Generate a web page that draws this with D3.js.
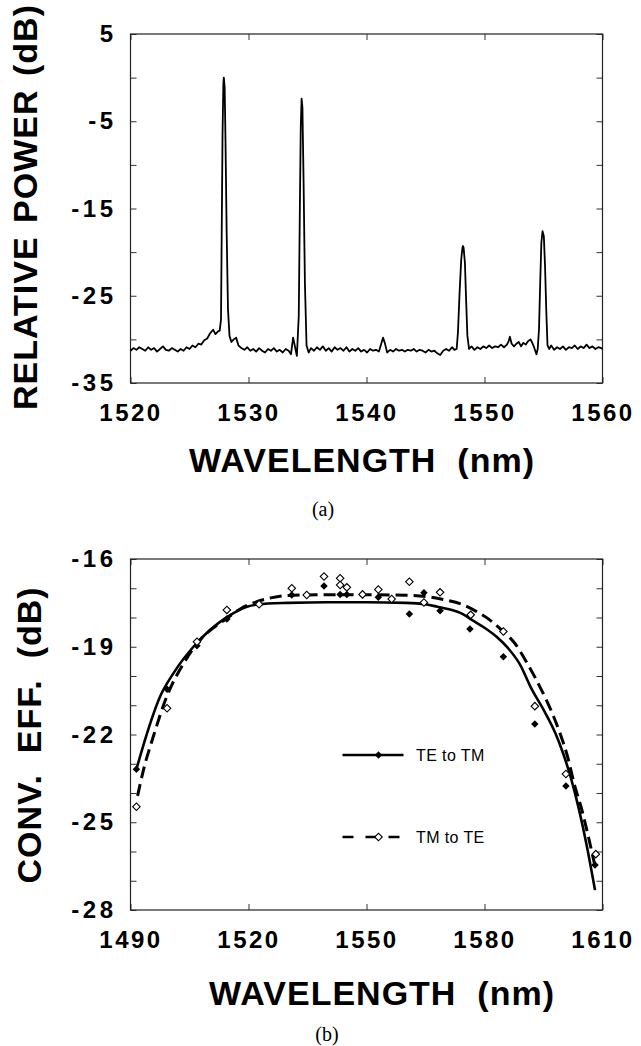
<!DOCTYPE html>
<html>
<head>
<meta charset="utf-8">
<script src="https://cdn.jsdelivr.net/npm/d3@7"></script>
<style>
  body { margin: 0; background: #fff; }
  svg { display: block; font-family: "Liberation Sans", Arial, Helvetica, sans-serif; }
  .tick text { font-size: 24px; font-weight: bold; fill: #000; }
  .xaxis .tick text { letter-spacing: 2.5px; }
  .yaxis .tick text { letter-spacing: 3.5px; }
  .tick line { stroke: #333; stroke-width: 1; }
  .title { font-size: 34px; font-weight: bold; letter-spacing: 1px; fill: #000; white-space: pre; }
  .caption { font-family: "Liberation Serif", "Times New Roman", serif; font-size: 20px; fill: #000; }
  .legend { font-size: 16px; letter-spacing: 0.4px; fill: #000; }
</style>
</head>
<body>
<svg width="641" height="1046"></svg>
<script>
// ---------- (a) optical spectrum: [wavelength (nm), relative power (dB)] ----------
var spectrum = [
  [1520.00,-31.3],[1520.25,-31.0],[1520.50,-31.2],[1520.75,-30.9],[1521.00,-31.1],
  [1521.25,-31.3],[1521.50,-30.9],[1521.75,-31.2],[1522.00,-31.0],[1522.25,-31.4],
  [1522.50,-31.1],[1522.75,-30.8],[1523.00,-31.2],[1523.25,-31.3],[1523.50,-31.0],
  [1523.75,-31.2],[1524.00,-31.4],[1524.25,-31.1],[1524.50,-31.3],[1524.75,-30.9],
  [1525.00,-31.1],[1525.25,-30.7],[1525.50,-30.9],[1525.75,-30.5],[1526.00,-30.6],
  [1526.25,-30.1],[1526.50,-29.9],[1526.75,-29.3],[1527.00,-28.9],[1527.20,-29.4],
  [1527.40,-29.1],[1527.56,-29.0],
  // peak 1
  [1527.67,-27.7],[1527.73,-17.8],[1527.80,-6.4],[1527.87,-0.7],[1527.91,0.0],
  [1527.98,-1.1],[1528.05,-7.2],[1528.15,-17.8],[1528.26,-26.5],[1528.39,-29.6],
  [1528.55,-30.3],[1528.75,-30.0],[1528.95,-29.8],[1529.15,-30.7],[1529.40,-31.0],
  [1529.65,-31.2],[1529.90,-30.9],[1530.15,-31.3],[1530.40,-31.1],[1530.65,-31.4],
  [1530.90,-31.0],[1531.15,-31.3],[1531.40,-31.5],[1531.65,-31.1],[1531.90,-31.3],
  [1532.15,-31.0],[1532.40,-31.4],[1532.65,-31.2],[1532.90,-31.5],[1533.15,-31.1],
  [1533.40,-31.3],[1533.60,-31.7],[1533.78,-29.8],[1533.95,-30.9],[1534.10,-31.9],
  // peak 2
  [1534.26,-27.3],[1534.36,-14.0],[1534.43,-5.6],[1534.50,-2.4],[1534.57,-3.4],
  [1534.67,-12.1],[1534.78,-23.5],[1534.92,-30.7],
  [1535.10,-31.5],[1535.30,-31.0],[1535.55,-31.3],[1535.80,-30.9],[1536.05,-31.2],
  [1536.30,-30.8],[1536.55,-31.3],[1536.80,-31.0],[1537.05,-31.4],[1537.30,-30.9],
  [1537.55,-31.2],[1537.80,-31.0],[1538.05,-31.3],[1538.30,-30.9],[1538.55,-31.4],
  [1538.80,-31.1],[1539.05,-31.3],[1539.30,-31.0],[1539.55,-31.4],[1539.80,-31.2],
  [1540.05,-31.5],[1540.30,-31.1],[1540.55,-31.3],[1540.80,-31.2],[1541.05,-31.4],
  [1541.25,-30.5],[1541.40,-29.8],[1541.55,-30.4],[1541.75,-31.5],[1542.00,-31.2],
  [1542.25,-31.4],[1542.50,-31.1],[1542.75,-31.3],[1543.00,-31.2],[1543.25,-31.4],
  [1543.50,-31.2],[1543.75,-31.3],[1544.00,-31.1],[1544.25,-31.4],[1544.50,-31.2],
  [1544.75,-31.3],[1545.00,-31.5],[1545.25,-31.2],[1545.50,-31.4],[1545.75,-31.3],
  [1546.00,-31.6],[1546.25,-31.8],[1546.50,-31.3],[1546.75,-31.1],[1547.00,-31.3],
  [1547.25,-30.9],[1547.45,-31.2],[1547.64,-31.1],
  // peak 3
  [1547.75,-29.2],[1547.89,-24.6],[1548.03,-20.8],[1548.13,-19.5],[1548.18,-19.3],
  [1548.23,-19.5],[1548.34,-21.2],[1548.44,-25.4],[1548.55,-29.6],[1548.69,-31.1],
  [1548.90,-30.8],[1549.15,-31.2],[1549.40,-30.9],[1549.65,-31.1],[1549.90,-30.8],
  [1550.15,-31.0],[1550.40,-30.7],[1550.65,-31.0],[1550.90,-30.8],[1551.15,-30.9],
  [1551.40,-30.6],[1551.65,-30.9],[1551.90,-30.6],[1552.05,-30.2],[1552.15,-29.7],
  [1552.30,-30.5],[1552.50,-30.8],[1552.70,-30.5],[1552.90,-30.3],[1553.10,-30.8],
  [1553.30,-30.4],[1553.50,-30.6],[1553.70,-30.2],[1553.90,-30.0],[1554.05,-30.4],
  [1554.20,-30.9],[1554.40,-31.7],[1554.51,-31.1],
  // peak 4
  [1554.62,-28.8],[1554.72,-23.5],[1554.82,-18.9],[1554.92,-17.6],[1555.03,-18.2],
  [1555.13,-21.6],[1555.24,-26.9],[1555.34,-30.7],[1555.48,-31.1],
  [1555.65,-30.7],[1555.90,-31.2],[1556.15,-30.9],[1556.40,-31.1],[1556.65,-30.8],
  [1556.90,-31.2],[1557.15,-30.9],[1557.40,-31.0],[1557.65,-30.7],[1557.90,-31.1],
  [1558.15,-30.8],[1558.40,-31.0],[1558.65,-30.6],[1558.90,-31.0],[1559.15,-30.8],
  [1559.40,-31.1],[1559.65,-30.9],[1559.90,-31.0],[1560.00,-31.1]
];
var specXTicks = [1520, 1530, 1540, 1550, 1560];
var specYTicks = [5, 0, -5, -10, -15, -20, -25, -30, -35];
var specYLabels = [5, -5, -15, -25, -35];

// ---------- (b) conversion efficiency ----------
// measured points
var teWave = [1491.5, 1499.3, 1506.9, 1514.5, 1531.0, 1539.2, 1543.3, 1545.0, 1553.0,
              1560.9, 1564.6, 1568.7, 1576.3, 1584.8, 1592.8, 1600.7, 1608.1];
var teEff  = [-23.19, -20.45, -18.97, -18.05, -17.23, -16.92, -17.21, -17.21, -17.31,
              -17.88, -17.15, -17.77, -18.39, -19.34, -21.64, -23.76, -26.46];
var tmWave = [1491.5, 1499.3, 1506.9, 1514.5, 1522.7, 1531.0, 1534.8, 1539.2, 1543.3, 1543.3,
              1545.0, 1549.0, 1553.0, 1556.4, 1560.9, 1564.6, 1568.7, 1576.5, 1584.8, 1592.8,
              1600.7, 1608.3];
var tmEff  = [-24.47, -21.10, -18.83, -17.74, -17.55, -17.00, -17.23, -16.60, -16.66, -16.89,
              -16.97, -17.21, -17.04, -17.37, -16.78, -17.49, -17.14, -17.91, -18.48, -21.03,
              -23.35, -26.09];
// fitted curves
var teFitWave = [1491.5, 1494.2, 1497.5, 1500.9, 1506.0, 1510.2, 1514.5, 1519.6, 1525, 1530,
                 1540, 1550, 1560, 1565, 1568, 1571, 1574, 1577, 1580, 1583, 1586, 1589, 1592,
                 1595, 1598, 1600, 1602, 1604, 1606, 1608.1];
var teFitEff  = [-23.19, -21.96, -20.71, -19.91, -19.00, -18.43, -17.99, -17.63, -17.52, -17.50,
                 -17.48, -17.48, -17.50, -17.55, -17.63, -17.72, -17.85, -18.10, -18.35, -18.65,
                 -19.05, -19.60, -20.45, -21.15, -21.95, -22.65, -23.50, -24.55, -25.80, -27.32];
var tmFitWave = [1491.8, 1493.3, 1495.8, 1499.2, 1503.5, 1507.7, 1514.5, 1518, 1522.1, 1526,
                 1530, 1540, 1550, 1560, 1566, 1570, 1574.6, 1578, 1581.4, 1584.5, 1587.7, 1591,
                 1594.9, 1597, 1599.2, 1601, 1603.0, 1604.8, 1606.4, 1608.1];
var tmFitEff  = [-24.10, -23.21, -22.07, -20.71, -19.57, -18.77, -18.03, -17.70, -17.46, -17.32,
                 -17.25, -17.22, -17.22, -17.24, -17.30, -17.40, -17.57, -17.80, -18.09, -18.45,
                 -18.88, -19.60, -20.59, -21.20, -21.96, -22.70, -23.78, -24.60, -25.49, -26.50];
var convXTicks = [1490, 1520, 1550, 1580, 1610];
var convYTicks = [-16, -17, -18, -19, -20, -21, -22, -23, -24, -25, -26, -27, -28];
var convYLabels = [-16, -19, -22, -25, -28];

var svg = d3.select("svg");

var left = 130.5, width = 472;

// draw a framed panel with inward ticks on all four sides
function panel(top, height, xDomain, yDomain, xTicks, yTicks, yLabels) {
  var g = svg.append("g").attr("transform", "translate(" + left + "," + top + ")");
  var x = d3.scaleLinear().domain(xDomain).range([0, width]);
  var y = d3.scaleLinear().domain(yDomain).range([height, 0]);

  g.append("g").attr("class", "xaxis")
      .attr("transform", "translate(0," + height + ")")
      .call(d3.axisBottom(x).tickValues(xTicks).tickSize(-6).tickPadding(21)
        .tickFormat(function(d) { return String(d); }));
  g.append("g").attr("class", "xaxis")
      .call(d3.axisTop(x).tickValues(xTicks).tickSize(-6).tickFormat(""));
  g.append("g").attr("class", "yaxis")
      .call(d3.axisLeft(y).tickValues(yTicks).tickSize(-6).tickPadding(14)
        .tickFormat(function(d) { return yLabels.indexOf(d) >= 0 ? String(d) : ""; }));
  g.append("g").attr("class", "yaxis")
      .attr("transform", "translate(" + width + ",0)")
      .call(d3.axisRight(y).tickValues(yTicks).tickSize(-6).tickFormat(""));
  g.selectAll(".domain").remove();

  g.append("rect")
      .attr("width", width).attr("height", height)
      .attr("fill", "none").attr("stroke", "#222").attr("stroke-width", 1.2);

  return { g: g, x: x, y: y };
}

// ---------- panel (a) ----------
var a = panel(34, 349, [1520, 1560], [-35, 5], specXTicks, specYTicks, specYLabels);

a.g.append("path")
    .datum(spectrum)
    .attr("fill", "none")
    .attr("stroke", "#000")
    .attr("stroke-width", 1.8)
    .attr("stroke-linejoin", "round")
    .attr("d", d3.line()
      .x(function(d) { return a.x(d[0]); })
      .y(function(d) { return a.y(d[1]); }));

svg.append("text").attr("class", "title")
    .attr("transform", "translate(37,207) rotate(-90)")
    .attr("text-anchor", "middle")
    .attr("word-spacing", "3px")
    .text("RELATIVE POWER (dB)");
svg.append("text").attr("class", "title")
    .attr("x", 362).attr("y", 472)
    .attr("text-anchor", "middle")
    .text("WAVELENGTH  (nm)");
svg.append("text").attr("class", "caption")
    .attr("x", 323).attr("y", 516)
    .attr("text-anchor", "middle")
    .text("(a)");

// ---------- panel (b) ----------
var b = panel(559, 351, [1490, 1610], [-28, -16], convXTicks, convYTicks, convYLabels);

var fitLine = d3.line()
    .x(function(d) { return b.x(d[0]); })
    .y(function(d) { return b.y(d[1]); })
    .curve(d3.curveMonotoneX);

b.g.append("path")
    .datum(d3.zip(teFitWave, teFitEff))
    .attr("fill", "none").attr("stroke", "#000").attr("stroke-width", 2.6)
    .attr("d", fitLine);
b.g.append("path")
    .datum(d3.zip(tmFitWave, tmFitEff))
    .attr("fill", "none").attr("stroke", "#000").attr("stroke-width", 3)
    .attr("stroke-dasharray", "12,6")
    .attr("d", fitLine);

var diamond = d3.symbol().type(d3.symbolSquare).size(28);

b.g.selectAll(".te")
    .data(d3.zip(teWave, teEff))
  .enter().append("path")
    .attr("class", "te")
    .attr("d", diamond)
    .attr("transform", function(d) { return "translate(" + b.x(d[0]) + "," + b.y(d[1]) + ") rotate(45)"; })
    .attr("fill", "#000");

b.g.selectAll(".tm")
    .data(d3.zip(tmWave, tmEff))
  .enter().append("path")
    .attr("class", "tm")
    .attr("d", diamond)
    .attr("transform", function(d) { return "translate(" + b.x(d[0]) + "," + b.y(d[1]) + ") rotate(45)"; })
    .attr("fill", "#fff").attr("stroke", "#000").attr("stroke-width", 1.1);

// legend
var leg = b.g.append("g");
leg.append("line")
    .attr("x1", 212).attr("x2", 273).attr("y1", 196).attr("y2", 196)
    .attr("stroke", "#000").attr("stroke-width", 2.4);
leg.append("path").attr("d", diamond)
    .attr("transform", "translate(248,196) rotate(45)").attr("fill", "#000");
leg.append("text").attr("class", "legend")
    .attr("x", 285.5).attr("y", 196).attr("dy", "0.35em").text("TE to TM");

leg.append("line")
    .attr("x1", 212).attr("x2", 273).attr("y1", 278).attr("y2", 278)
    .attr("stroke", "#000").attr("stroke-width", 2.6).attr("stroke-dasharray", "11,12");
leg.append("path").attr("d", diamond)
    .attr("transform", "translate(248,278) rotate(45)")
    .attr("fill", "#fff").attr("stroke", "#000").attr("stroke-width", 1.1);
leg.append("text").attr("class", "legend")
    .attr("x", 285.5).attr("y", 278).attr("dy", "0.35em").text("TM to TE");

svg.append("text").attr("class", "title")
    .attr("transform", "translate(41,735) rotate(-90)")
    .attr("text-anchor", "middle")
    .text("CONV.  EFF.  (dB)");
svg.append("text").attr("class", "title")
    .attr("x", 382).attr("y", 1005)
    .attr("text-anchor", "middle")
    .text("WAVELENGTH  (nm)");
svg.append("text").attr("class", "caption")
    .attr("x", 327).attr("y", 1041)
    .attr("text-anchor", "middle")
    .text("(b)");
</script>
</body>
</html>
